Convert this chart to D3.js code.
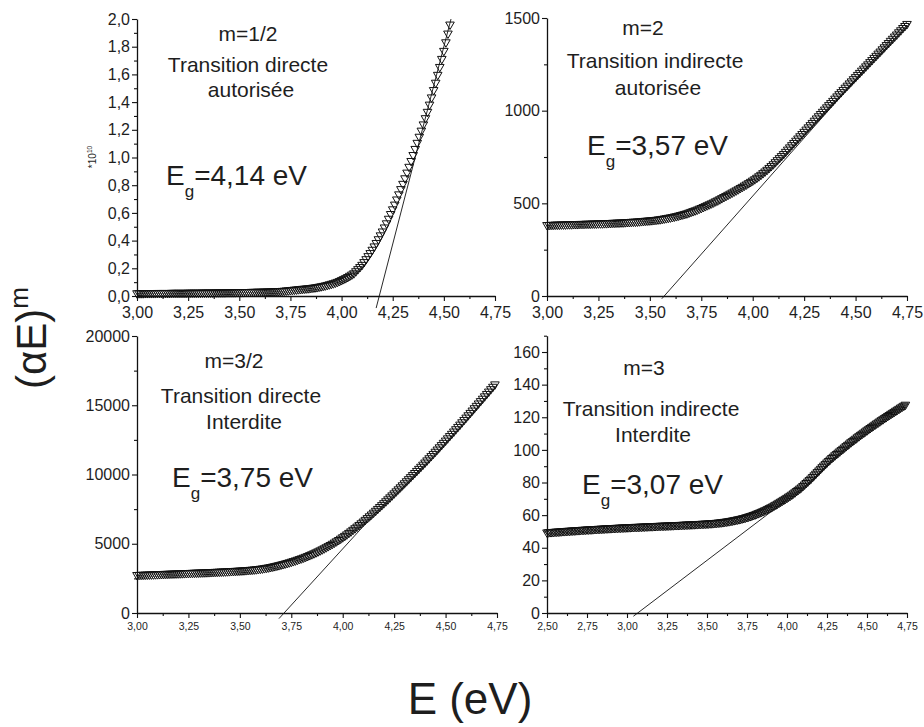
<!DOCTYPE html>
<html><head><meta charset="utf-8">
<script src="https://cdn.jsdelivr.net/npm/d3@7"></script>
<style>
body{margin:0;background:#fff}
svg{display:block}
text{font-family:"Liberation Sans",Arial,sans-serif;fill:#1e1e1e}
</style>
</head><body>
<svg id="chart" width="924" height="727"></svg>
<script>
// ---------- DATA ----------
const energyGrid = [
2.50,2.51,2.52,2.53,2.54,2.55,2.56,2.57,2.58,2.59,
2.60,2.61,2.62,2.63,2.64,2.65,2.66,2.67,2.68,2.69,
2.70,2.71,2.72,2.73,2.74,2.75,2.76,2.77,2.78,2.79,
2.80,2.81,2.82,2.83,2.84,2.85,2.86,2.87,2.88,2.89,
2.90,2.91,2.92,2.93,2.94,2.95,2.96,2.97,2.98,2.99,
3.00,3.01,3.02,3.03,3.04,3.05,3.06,3.07,3.08,3.09,
3.10,3.11,3.12,3.13,3.14,3.15,3.16,3.17,3.18,3.19,
3.20,3.21,3.22,3.23,3.24,3.25,3.26,3.27,3.28,3.29,
3.30,3.31,3.32,3.33,3.34,3.35,3.36,3.37,3.38,3.39,
3.40,3.41,3.42,3.43,3.44,3.45,3.46,3.47,3.48,3.49,
3.50,3.51,3.52,3.53,3.54,3.55,3.56,3.57,3.58,3.59,
3.60,3.61,3.62,3.63,3.64,3.65,3.66,3.67,3.68,3.69,
3.70,3.71,3.72,3.73,3.74,3.75,3.76,3.77,3.78,3.79,
3.80,3.81,3.82,3.83,3.84,3.85,3.86,3.87,3.88,3.89,
3.90,3.91,3.92,3.93,3.94,3.95,3.96,3.97,3.98,3.99,
4.00,4.01,4.02,4.03,4.04,4.05,4.06,4.07,4.08,4.09,
4.10,4.11,4.12,4.13,4.14,4.15,4.16,4.17,4.18,4.19,
4.20,4.21,4.22,4.23,4.24,4.25,4.26,4.27,4.28,4.29,
4.30,4.31,4.32,4.33,4.34,4.35,4.36,4.37,4.38,4.39,
4.40,4.41,4.42,4.43,4.44,4.45,4.46,4.47,4.48,4.49,
4.50,4.51,4.52,4.53,4.54,4.55,4.56,4.57,4.58,4.59,
4.60,4.61,4.62,4.63,4.64,4.65,4.66,4.67,4.68,4.69,
4.70,4.71,4.72,4.73,4.74,4.75];

// m = 1/2  (values x 1e10), from E = 3.00
const valuesHalf = [
.020,.020,.020,.020,.021,.021,.021,.021,.021,.021,
.022,.022,.022,.022,.022,.022,.022,.023,.023,.023,
.023,.023,.023,.023,.023,.024,.024,.024,.024,.024,
.024,.024,.025,.025,.025,.025,.025,.025,.026,.026,
.026,.026,.026,.026,.027,.027,.027,.027,.027,.028,
.028,.028,.028,.029,.029,.029,.030,.030,.030,.031,
.031,.031,.032,.032,.033,.033,.034,.034,.035,.035,
.036,.037,.038,.040,.041,.043,.044,.046,.047,.049,
.050,.052,.053,.055,.056,.058,.060,.062,.064,.067,
.070,.073,.076,.080,.084,.088,.092,.097,.102,.108,
.115,.122,.129,.137,.146,.155,.164,.179,.194,.209,
.225,.245,.266,.288,.310,.334,.358,.383,.410,.438,
.466,.495,.525,.558,.592,.626,.660,.697,.734,.772,
.810,.850,.891,.933,.975,1.018,1.062,1.106,1.150,1.194,
1.239,1.284,1.330,1.382,1.434,1.487,1.540,1.597,1.654,1.712,
1.770,1.832,1.895,1.960];

// m = 2, from E = 3.00
const valuesTwo = [
383,383,384,384,385,385,385,386,386,386,
387,387,387,388,388,388,389,389,389,390,
390,390,391,391,391,392,392,392,393,393,
394,394,395,395,396,396,397,397,398,399,
399,400,401,401,402,403,404,405,406,407,
408,409,410,411,413,414,416,418,420,422,
424,426,429,431,434,437,440,443,446,450,
454,458,462,466,471,475,480,485,490,495,
500,505,511,516,522,528,534,540,546,552,
558,564,570,576,583,589,596,602,609,616,
623,630,638,646,654,663,672,681,691,701,
711,722,733,744,755,766,778,790,802,814,
826,838,850,862,874,886,898,910,922,934,
946,958,970,982,994,1006,1018,1030,1041,1053,
1065,1077,1089,1100,1112,1124,1135,1147,1158,1170,
1181,1193,1204,1216,1227,1239,1250,1262,1273,1285,
1296,1308,1319,1331,1342,1354,1365,1377,1388,1400,
1411,1423,1434,1446,1457,1468];

// m = 3/2, from E = 3.00
const valuesThreeHalf = [
2744,2750,2756,2762,2768,2773,2779,2785,2791,2797,
2802,2808,2814,2820,2826,2831,2837,2843,2849,2855,
2860,2866,2872,2878,2884,2889,2895,2901,2907,2913,
2918,2924,2930,2936,2942,2948,2955,2962,2969,2976,
2983,2990,2997,3004,3012,3020,3028,3036,3044,3053,
3062,3072,3082,3093,3104,3116,3129,3143,3159,3177,
3196,3217,3240,3265,3292,3321,3352,3385,3419,3455,
3492,3531,3571,3613,3656,3701,3747,3795,3844,3895,
3948,4003,4060,4119,4180,4243,4309,4377,4447,4519,
4593,4669,4748,4829,4912,4998,5087,5178,5272,5369,
5469,5571,5676,5784,5894,6007,6122,6239,6358,6479,
6602,6727,6854,6983,7114,7246,7380,7515,7652,7790,
7929,8069,8210,8352,8495,8639,8784,8929,9075,9221,
9368,9515,9663,9811,9960,10109,10259,10409,10560,10712,
10865,11019,11174,11330,11487,11645,11804,11964,12125,12287,
12449,12612,12776,12940,13105,13271,13437,13604,13772,13940,
14109,14278,14448,14618,14788,14959,15130,15301,15473,15645,
15817,15989,16162,16335,16508];

// m = 3, from E = 2.50
const valuesThree = [
49.4,49.5,49.6,49.6,49.7,49.8,49.9,49.9,50.0,50.1,
50.2,50.2,50.3,50.4,50.4,50.5,50.6,50.6,50.7,50.8,
50.8,50.9,51.0,51.0,51.1,51.2,51.2,51.3,51.3,51.4,
51.5,51.5,51.6,51.6,51.7,51.7,51.8,51.9,51.9,52.0,
52.0,52.1,52.1,52.2,52.2,52.3,52.3,52.4,52.4,52.5,
52.5,52.6,52.6,52.7,52.7,52.8,52.8,52.8,52.9,52.9,
53.0,53.0,53.1,53.1,53.2,53.2,53.2,53.3,53.3,53.4,
53.4,53.5,53.5,53.5,53.6,53.6,53.7,53.7,53.8,53.8,
53.9,53.9,53.9,54.0,54.0,54.1,54.1,54.2,54.2,54.3,
54.3,54.4,54.4,54.5,54.5,54.6,54.6,54.7,54.7,54.8,
54.8,54.9,55.0,55.0,55.1,55.2,55.3,55.4,55.5,55.6,
55.7,55.9,56.0,56.2,56.3,56.5,56.7,56.9,57.1,57.3,
57.5,57.7,58.0,58.2,58.5,58.8,59.1,59.4,59.7,60.1,
60.4,60.8,61.2,61.6,62.0,62.4,62.9,63.3,63.8,64.3,
64.8,65.3,65.9,66.4,67.0,67.6,68.2,68.8,69.4,70.0,
70.6,71.3,71.9,72.6,73.3,74.0,74.8,75.5,76.3,77.0,
77.9,78.8,79.7,80.6,81.5,82.4,83.4,84.4,85.4,86.4,
87.4,88.4,89.4,90.4,91.3,92.3,93.2,94.1,95.0,95.8,
96.7,97.5,98.3,99.1,99.9,100.7,101.5,102.3,103.1,103.9,
104.7,105.4,106.2,106.9,107.7,108.4,109.2,109.9,110.6,111.3,
112.0,112.7,113.4,114.1,114.8,115.5,116.2,116.8,117.5,118.2,
118.8,119.5,120.1,120.8,121.4,122.1,122.7,123.3,124.0,124.6,
125.2,125.9,126.5,127.1,127.7];

// tangent (extrapolation) lines: [E, value] end points
const tangentHalf = [[4.169,-0.087],[4.535,2.0]];
const tangentTwo = [[3.558,-15],[4.75,1480]];
const tangentThreeHalf = [[3.69,-406],[4.12,6583]];
const tangentThree = [[3.04,-2],[4.00,69.5]];

// tick values
const xTicksA = [3.00,3.25,3.50,3.75,4.00,4.25,4.50,4.75];
const xMinorA = [3.125,3.375,3.625,3.875,4.125,4.375,4.625];
const xTicksB = [2.50,2.75,3.00,3.25,3.50,3.75,4.00,4.25,4.50,4.75];
const xMinorB = [2.625,2.875,3.125,3.375,3.625,3.875,4.125,4.375,4.625];
const yTicksHalf = [0,0.2,0.4,0.6,0.8,1.0,1.2,1.4,1.6,1.8,2.0];
const yMinorHalf = [0.1,0.3,0.5,0.7,0.9,1.1,1.3,1.5,1.7,1.9];
const yTicksTwo = [0,500,1000,1500];
const yMinorTwo = [250,750,1250];
const yTicksThreeHalf = [0,5000,10000,15000,20000];
const yMinorThreeHalf = [2500,7500,12500,17500];
const yTicksThree = [0,20,40,60,80,100,120,140,160];
const yMinorThree = [10,30,50,70,90,110,130,150,170];

// texts
const titlesHalf = ["m=1/2","Transition directe","autorisée"];
const titlesTwo = ["m=2","Transition indirecte","autorisée"];
const titlesThreeHalf = ["m=3/2","Transition directe","Interdite"];
const titlesThree = ["m=3","Transition indirecte","Interdite"];
const gapLabels = ["=4,14 eV","=3,57 eV","=3,75 eV","=3,07 eV"];

// ---------- DRAW ----------
const svg = d3.select("#chart");
const loc = d3.formatLocale({decimal:",",thousands:"",grouping:[3],currency:["",""]});
const f1 = loc.format(".1f"), f2 = loc.format(".2f"), fd = loc.format("d");
const gridIndex = e => energyGrid.findIndex(v => Math.abs(v - e) < 1e-6);

const panels = [
  {x0:137,x1:495,yb:296,yt:19, xd:[3.00,4.75], yd:[0,2.0], vals:valuesHalf, start:3.00,
   xt:xTicksA, xm:xMinorA, yt_:yTicksHalf, ym:yMinorHalf, yf:f1, xfs:16, tan:tangentHalf,
   titles:titlesHalf, tx:[248,248,251], ty:[41,72,97], eg:[166,185], gap:gapLabels[0]},
  {x0:547,x1:907,yb:296,yt:18, xd:[3.00,4.75], yd:[0,1500], vals:valuesTwo, start:3.00,
   xt:xTicksA, xm:xMinorA, yt_:yTicksTwo, ym:yMinorTwo, yf:fd, xfs:16, tan:tangentTwo,
   titles:titlesTwo, tx:[643,655,658], ty:[35,68,95], eg:[587,155], gap:gapLabels[1]},
  {x0:137,x1:497,yb:613,yt:336, xd:[3.00,4.75], yd:[0,20000], vals:valuesThreeHalf, start:3.00,
   xt:xTicksA, xm:xMinorA, yt_:yTicksThreeHalf, ym:yMinorThreeHalf, yf:fd, xfs:10.5, tan:tangentThreeHalf,
   titles:titlesThreeHalf, tx:[234,241,244], ty:[368,403,429], eg:[172,487], gap:gapLabels[2]},
  {x0:547,x1:907,yb:613,yt:335.7, xd:[2.50,4.75], yd:[0,170], vals:valuesThree, start:2.50,
   xt:xTicksB, xm:xMinorB, yt_:yTicksThree, ym:yMinorThree, yf:fd, xfs:10.5, tan:tangentThree,
   titles:titlesThree, tx:[644,651,653], ty:[375,416,442], eg:[582,494], gap:gapLabels[3]}
];

const tri = d3.symbol().type(d3.symbolTriangle).size(32);

panels.forEach(p => {
  const x = d3.scaleLinear().domain(p.xd).range([p.x0, p.x1]);
  const y = d3.scaleLinear().domain(p.yd).range([p.yb, p.yt]);
  const g = svg.append("g");

  // data points (open down-triangles)
  const i0 = gridIndex(p.start);
  const pts = p.vals.map((v,i) => [energyGrid[i0+i], v]);
  g.append("g").selectAll("path").data(pts).join("path")
    .attr("d", tri)
    .attr("transform", d => `translate(${x(d[0])},${y(d[1])}) rotate(180)`)
    .attr("fill","none").attr("stroke","#111").attr("stroke-width",1);

  // tangent line
  g.append("path").attr("d", d3.line().x(d=>x(d[0])).y(d=>y(d[1]))(p.tan))
    .attr("fill","none").attr("stroke","#111").attr("stroke-width",0.9);

  // axes
  const ax = g.append("g").attr("transform",`translate(0,${p.yb})`)
    .call(d3.axisBottom(x).tickValues(p.xt).tickFormat(f2).tickSize(5).tickSizeOuter(0).tickPadding(p.xfs>12?6:5));
  ax.append("g").call(d3.axisBottom(x).tickValues(p.xm).tickFormat("").tickSize(3).tickSizeOuter(0))
    .select(".domain").remove();
  ax.selectAll("text").attr("font-size",p.xfs).attr("fill","#1e1e1e")
    .style("font-family",'"Liberation Sans",Arial,sans-serif');

  const ay = g.append("g").attr("transform",`translate(${p.x0},0)`)
    .call(d3.axisLeft(y).tickValues(p.yt_).tickFormat(p.yf).tickSize(5).tickSizeOuter(0).tickPadding(2));
  ay.append("g").call(d3.axisLeft(y).tickValues(p.ym).tickFormat("").tickSize(3).tickSizeOuter(0))
    .select(".domain").remove();
  ay.selectAll("text").attr("font-size",16).attr("fill","#1e1e1e")
    .style("font-family",'"Liberation Sans",Arial,sans-serif');
  g.selectAll(".domain").attr("stroke","#111").attr("stroke-width",1.3);
  g.selectAll(".tick line").attr("stroke","#111").attr("stroke-width",1.1);

  // titles
  p.titles.forEach((t,i) => {
    g.append("text").attr("x",p.tx[i]).attr("y",p.ty[i]).attr("text-anchor","middle")
      .attr("font-size",21).text(t);
  });
  // gap energy
  const eg = g.append("text").attr("x",p.eg[0]).attr("y",p.eg[1]).attr("font-size",28);
  eg.append("tspan").text("E");
  eg.append("tspan").attr("font-size",17).attr("dy",12).text("g");
  eg.append("tspan").attr("dy",-12).text(p.gap);
});

// scale factor label on panel 1
const sf = svg.append("text").attr("transform","translate(96,157) rotate(-90)")
  .attr("text-anchor","middle").attr("font-size",10);
sf.append("tspan").text("*10");
sf.append("tspan").attr("font-size",6.5).attr("dy",-4).text("10");

// big axis titles
const yl = svg.append("text").attr("transform","translate(46,338) rotate(-90)")
  .attr("text-anchor","middle").attr("font-size",42);
yl.append("tspan").text("(αE)");
yl.append("tspan").attr("font-size",26).attr("dy",-18).text("m");

svg.append("text").attr("x",470).attr("y",714).attr("text-anchor","middle")
  .attr("font-size",44).text("E (eV)");
</script>
</body></html>
